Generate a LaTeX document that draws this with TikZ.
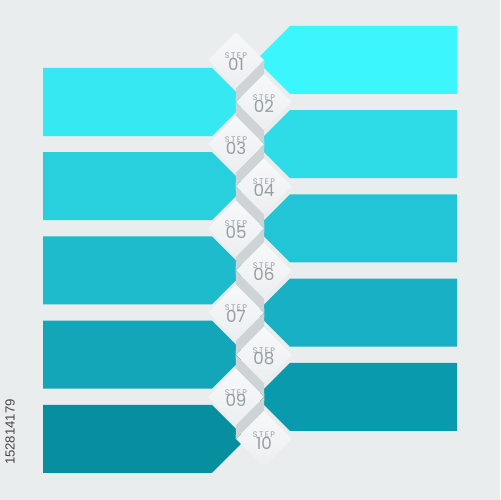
\documentclass[tikz,border=0pt]{standalone}
\usepackage{fontspec}
\setmainfont{Poppins}
\newfontfamily\idfont{Liberation Sans}
\usetikzlibrary{shapes.geometric}
\definecolor{bg}{RGB}{233,237,238}
\definecolor{stripc}{RGB}{206,211,213}
\definecolor{dtop}{RGB}{247,248,249}
\definecolor{dbot}{RGB}{236,239,240}
\definecolor{txt}{RGB}{150,158,162}
\definecolor{cR1}{RGB}{60,246,254}
\definecolor{cL1}{RGB}{53,232,242}
\definecolor{cR2}{RGB}{46,220,232}
\definecolor{cL2}{RGB}{40,208,222}
\definecolor{cR3}{RGB}{34,197,213}
\definecolor{cL3}{RGB}{30,187,204}
\definecolor{cR4}{RGB}{23,176,196}
\definecolor{cL4}{RGB}{19,165,184}
\definecolor{cR5}{RGB}{10,154,173}
\definecolor{cL5}{RGB}{7,143,159}
\tikzset{
  stepdia/.style={diamond, aspect=1, inner sep=0pt, minimum width=1.12cm, minimum height=1.12cm,
    top color=dtop, bottom color=dbot, draw=none},
  steplbl/.style={text=txt, inner sep=0pt, font=\fontsize{4.6}{5}\selectfont\addfontfeatures{LetterSpace=18}},
  stepnum/.style={text=txt, inner sep=0pt, font=\fontsize{9.5}{10}\selectfont},
  gapstrip/.style={fill=stripc, draw=none},
}
\begin{document}
\begin{tikzpicture}[x=0.02cm, y=-0.02cm]
\useasboundingbox (0,0) rectangle (500,500);
\fill[bg] (0,0) rectangle (500,500);
% banners
\foreach \j/\cr/\cl in {1/cR1/cL1,2/cR2/cL2,3/cR3/cL3,4/cR4/cL4,5/cR5/cL5}{
  \pgfmathsetmacro{\ro}{26+84.2*(\j-1)}
  \pgfmathsetmacro{\lo}{68+84.2*(\j-1)}
  \fill[\cr] (290,\ro) -- (457,\ro) -- (457,\ro+68) -- (290,\ro+68) -- (256,\ro+34) -- cycle;
  \fill[\cl] (43,\lo) -- (212,\lo) -- (246,\lo+34) -- (212,\lo+68) -- (43,\lo+68) -- cycle;
}
% diamonds
\foreach \k in {1,...,10}{
  \pgfmathsetmacro{\cy}{60+42.1*(\k-1)}
  \pgfmathsetmacro{\cx}{isodd(\k) ? 236 : 264}
  \coordinate (c\k) at (\cx,\cy);
}
% strips between diamonds (drawn first, below the diamonds)
\foreach \k in {1,...,10}{
  \node[stepdia, opacity=0] (d\k) at (c\k) {};
}
\foreach \a/\b in {1/2,3/4,5/6,7/8,9/10}{
  \fill[gapstrip] (d\a.east) -- (d\a.south) -- (d\b.west) -- (d\b.north) -- cycle;
}
\foreach \a/\b in {2/3,4/5,6/7,8/9}{
  \fill[gapstrip] (d\a.west) -- (d\a.south) -- (d\b.east) -- (d\b.north) -- cycle;
}
\foreach \k/\n in {1/01,2/02,3/03,4/04,5/05,6/06,7/07,8/08,9/09,10/10}{
  \node[stepdia] (s\k) at (c\k) {};
  \node[steplbl] (t\k) at ([yshift=0.09cm]s\k.center) {STEP};
  \node[stepnum] (n\k) at ([yshift=-0.08cm]s\k.center) {\n};
}
% id text
\node[rotate=90, text={rgb,255:red,70;green,70;blue,70}, font=\idfont\fontsize{7.5}{8}\selectfont, inner sep=0pt] (id) at (10,432) {152814179};
\end{tikzpicture}
\end{document}
